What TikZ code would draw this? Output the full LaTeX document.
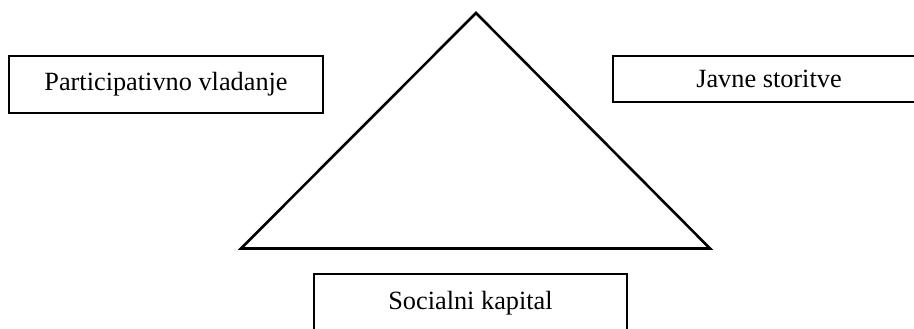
\documentclass[tikz,border=0pt]{standalone}
\usepackage{fontspec}
\setmainfont{Liberation Serif}
\usepackage{tikz}

\begin{document}
\begin{tikzpicture}[
    x=1pt, y=1pt, yscale=-1, xscale=1,
    every node/.style={font=\fontsize{26.3}{30}\selectfont, inner sep=1pt},
    termbox/.style={draw, line width=2pt, rectangle}
]

\useasboundingbox (0,0) rectangle (914,329);
\clip (0,0) rectangle (914,329);

%==================== Triangle ====================
\coordinate (apex)  at (476,13);
\coordinate (baseL) at (241,248.5);
\coordinate (baseR) at (710,248.5);
\draw [line width=2.6pt, line join=miter] (apex) -- (baseR) -- (baseL) -- cycle ;

%==================== Boxes ====================
\node [termbox, minimum width=314, minimum height=57] (vladanje) at (166,84.5) {Participativno vladanje};
\node [termbox, minimum width=312, minimum height=46] (storitve) at (769,79) {Javne storitve};
\node [termbox, minimum width=313, minimum height=58] (kapital)  at (470.5,303) {Socialni kapital};

\end{tikzpicture}
\end{document}
